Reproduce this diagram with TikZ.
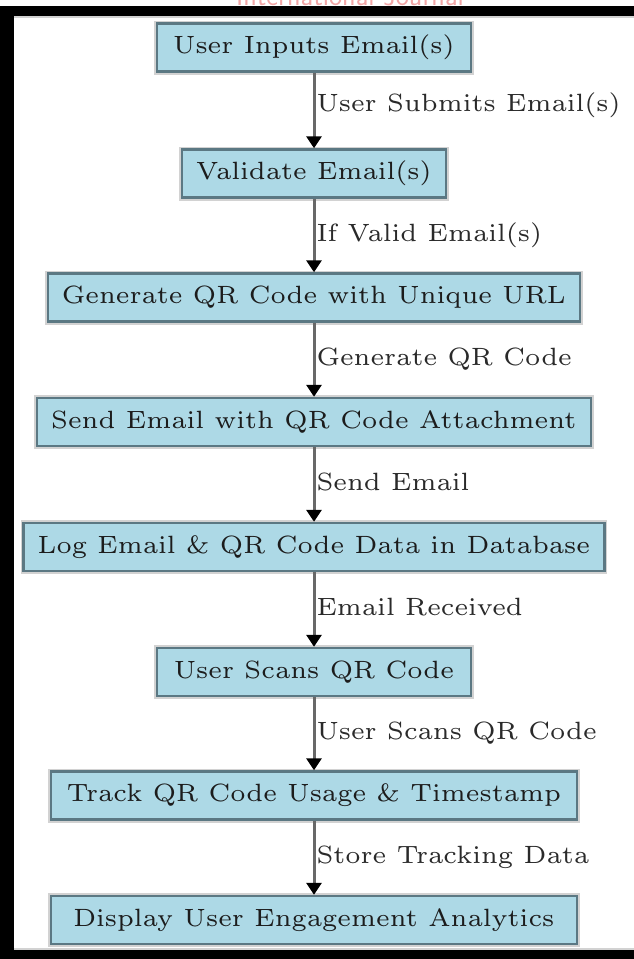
\documentclass[tikz,border=0pt]{standalone}
\usetikzlibrary{arrows.meta}
\definecolor{boxfill}{HTML}{ADD9E6}
\definecolor{boxborder}{HTML}{5B7883}
\definecolor{shadowgray}{HTML}{D2D2D2}
\definecolor{boxtext}{HTML}{1C1C1C}
\definecolor{lbltext}{HTML}{2A2A2A}
\definecolor{linegray}{HTML}{686868}
\definecolor{pinktext}{HTML}{F2A6A6}
\font\diagfont=cmr6 at 25pt
\begin{document}
\begin{tikzpicture}[x=1pt,y=-1pt,
  box/.style={draw=boxborder, line width=2.5pt, fill=boxfill,
    preaction={draw=shadowgray, line width=6pt},
    inner xsep=14pt, inner ysep=0pt, minimum height=48pt, text=boxtext,
    font=\diagfont, text height=18pt, text depth=6pt},
  lbl/.style={font=\diagfont, text=lbltext, anchor=base west, inner xsep=1pt, inner ysep=0pt, pos=0.5, yshift=-6pt},
  flow/.style={draw=linegray, line width=3pt, -{Triangle[length=12pt,width=15pt,color=black]}}]
\useasboundingbox (0,0) rectangle (634,959);
\fill[white] (0,0) rectangle (634,959);
% faded watermark text cut off at the top
\begin{scope}
  \clip (0,0) rectangle (634,6);
  \node[font=\sffamily\fontsize{28}{30}\selectfont, text=pinktext, anchor=base, inner sep=0pt] (wm) at (350,5) {International Journal};
\end{scope}
% frame
\fill[shadowgray] (0,16) rectangle (634,18);
\fill[shadowgray] (0,948) rectangle (634,950);
\fill[black] (0,6) rectangle (634,16);
\fill[black] (0,950) rectangle (634,959);
\fill[black] (0,6) rectangle (14,959);
% nodes
\node[box, minimum width=314pt] (n1) at (314,47.5) {User Inputs Email(s)};
\node[box] (n2) at (314,173.5) {Validate Email(s)};
\node[box] (n3) at (314,297.5) {Generate QR Code with Unique URL};
\node[box] (n4) at (314,422) {Send Email with QR Code Attachment};
\node[box] (n5) at (314,547) {Log Email \& QR Code Data in Database};
\node[box, minimum width=314pt] (n6) at (314,672) {User Scans QR Code};
\node[box, minimum width=526pt] (n7) at (314,795.5) {Track QR Code Usage \& Timestamp};
\node[box, minimum width=526pt] (n8) at (314,920) {Display User Engagement Analytics};
% connectors
\draw[flow] (n1) -- node[lbl, yshift=5pt] {User Submits Email(s)} (n2);
\draw[flow] (n2) -- node[lbl] {If Valid Email(s)} (n3);
\draw[flow] (n3) -- node[lbl] {Generate QR Code} (n4);
\draw[flow] (n4) -- node[lbl] {Send Email} (n5);
\draw[flow] (n5) -- node[lbl] {Email Received} (n6);
\draw[flow] (n6) -- node[lbl] {User Scans QR Code} (n7);
\draw[flow] (n7) -- node[lbl] {Store Tracking Data} (n8);
\end{tikzpicture}
\end{document}
